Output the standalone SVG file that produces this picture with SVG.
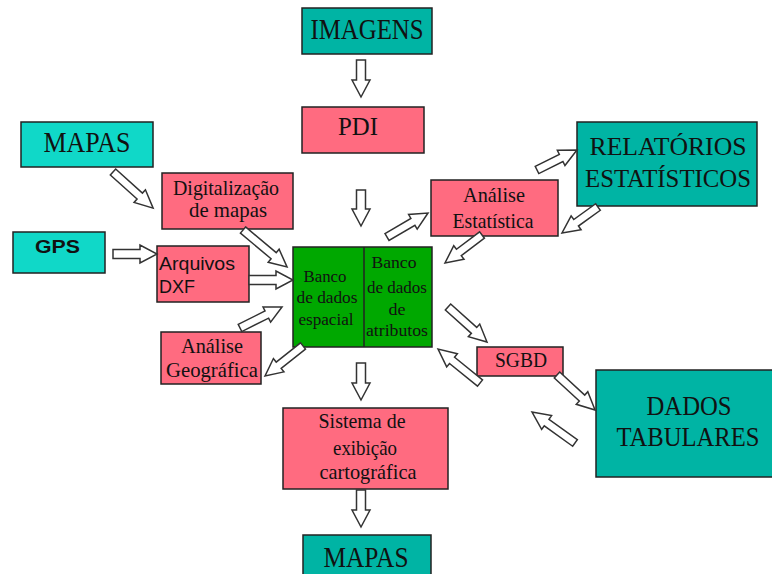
<svg xmlns="http://www.w3.org/2000/svg" width="772" height="574" viewBox="0 0 772 574">
  <style>
    .box { stroke: #222; stroke-width: 1.5; }
    .teal { fill: #00B4A4; }
    .cyan { fill: #10D8C8; }
    .pink { fill: #FF6B80; }
    .green { fill: #00A800; }
    .serif { font-family: "Liberation Serif", "Times New Roman", serif; fill: #111; }
    .sans { font-family: "Liberation Sans", Arial, sans-serif; fill: #111; }
    .big { font-size: 29px; }
    .mid { font-size: 21px; }
    .small { font-size: 17px; }
    .blk { fill: #fff; stroke: #333; stroke-width: 1.5; stroke-linejoin: miter; }
  </style>

  <!-- nodes -->
  <g id="imagens">
    <rect class="box teal" x="302" y="8" width="130" height="46"/>
    <text class="serif big" x="367" y="39" text-anchor="middle" textLength="113" lengthAdjust="spacingAndGlyphs">IMAGENS</text>
  </g>
  <g id="pdi">
    <rect class="box pink" x="302" y="107" width="122" height="46"/>
    <text class="serif" font-size="25" x="358" y="135" text-anchor="middle" textLength="40" lengthAdjust="spacingAndGlyphs">PDI</text>
  </g>
  <g id="mapas-in">
    <rect class="box cyan" x="21" y="122" width="132" height="45"/>
    <text class="serif big" x="87" y="152" text-anchor="middle" textLength="87" lengthAdjust="spacingAndGlyphs">MAPAS</text>
  </g>
  <g id="digitalizacao">
    <rect class="box pink" x="162" y="173" width="131" height="56"/>
    <text class="serif mid" x="226" y="195" text-anchor="middle" textLength="106" lengthAdjust="spacingAndGlyphs">Digitalização</text>
    <text class="serif mid" x="228" y="217" text-anchor="middle" textLength="78" lengthAdjust="spacingAndGlyphs">de mapas</text>
  </g>
  <g id="gps">
    <rect class="box cyan" x="13" y="232" width="92" height="41"/>
    <text class="sans" font-size="18" font-weight="bold" x="35" y="253" textLength="45" lengthAdjust="spacingAndGlyphs">GPS</text>
  </g>
  <g id="arquivos-dxf">
    <rect class="box pink" x="157" y="246" width="92" height="56"/>
    <text class="sans" font-size="19" x="159" y="270" textLength="76" lengthAdjust="spacingAndGlyphs">Arquivos</text>
    <text class="sans" font-size="19" x="159" y="293" textLength="36" lengthAdjust="spacingAndGlyphs">DXF</text>
  </g>
  <g id="analise-geografica">
    <rect class="box pink" x="161" y="332" width="100" height="52"/>
    <text class="serif mid" x="212" y="353" text-anchor="middle" textLength="62" lengthAdjust="spacingAndGlyphs">Análise</text>
    <text class="serif mid" x="212" y="377" text-anchor="middle" textLength="92" lengthAdjust="spacingAndGlyphs">Geográfica</text>
  </g>
  <g id="banco">
    <rect class="box green" x="293" y="247" width="139" height="100"/>
    <line x1="364" y1="247" x2="364" y2="347" stroke="#222" stroke-width="1.5"/>
    <text class="serif small" x="325" y="282" text-anchor="middle" textLength="43" lengthAdjust="spacingAndGlyphs">Banco</text>
    <text class="serif small" x="327" y="303" text-anchor="middle" textLength="61" lengthAdjust="spacingAndGlyphs">de dados</text>
    <text class="serif small" x="326" y="325" text-anchor="middle" textLength="55" lengthAdjust="spacingAndGlyphs">espacial</text>
    <text class="serif small" x="394" y="268" text-anchor="middle" textLength="45" lengthAdjust="spacingAndGlyphs">Banco</text>
    <text class="serif small" x="397" y="293" text-anchor="middle" textLength="60" lengthAdjust="spacingAndGlyphs">de dados</text>
    <text class="serif small" x="397" y="315" text-anchor="middle" textLength="17" lengthAdjust="spacingAndGlyphs">de</text>
    <text class="serif small" x="397" y="336" text-anchor="middle" textLength="62" lengthAdjust="spacingAndGlyphs">atributos</text>
  </g>
  <g id="analise-estatistica">
    <rect class="box pink" x="431" y="180" width="127" height="56"/>
    <text class="serif mid" x="494" y="202" text-anchor="middle" textLength="62" lengthAdjust="spacingAndGlyphs">Análise</text>
    <text class="serif mid" x="493" y="228" text-anchor="middle" textLength="81" lengthAdjust="spacingAndGlyphs">Estatística</text>
  </g>
  <g id="relatorios">
    <rect class="box teal" x="577" y="122" width="180" height="84"/>
    <text class="serif" font-size="25.5" x="668" y="155" text-anchor="middle" textLength="157" lengthAdjust="spacingAndGlyphs">RELATÓRIOS</text>
    <text class="serif" font-size="25.5" x="668" y="187" text-anchor="middle" textLength="166" lengthAdjust="spacingAndGlyphs">ESTATÍSTICOS</text>
  </g>
  <g id="sgbd">
    <rect class="box pink" x="477" y="347" width="86" height="29"/>
    <text class="serif mid" x="521" y="367" text-anchor="middle" textLength="52" lengthAdjust="spacingAndGlyphs">SGBD</text>
  </g>
  <g id="dados-tabulares">
    <rect class="box teal" x="596" y="370" width="180" height="107"/>
    <text class="serif" font-size="27" x="689" y="415" text-anchor="middle" textLength="85" lengthAdjust="spacingAndGlyphs">DADOS</text>
    <text class="serif" font-size="27" x="688" y="446" text-anchor="middle" textLength="143" lengthAdjust="spacingAndGlyphs">TABULARES</text>
  </g>
  <g id="sistema-exibicao">
    <rect class="box pink" x="283" y="408" width="165" height="81"/>
    <text class="serif mid" x="362" y="428" text-anchor="middle" textLength="87" lengthAdjust="spacingAndGlyphs">Sistema de</text>
    <text class="serif mid" x="365" y="455" text-anchor="middle" textLength="64" lengthAdjust="spacingAndGlyphs">exibição</text>
    <text class="serif mid" x="368" y="479" text-anchor="middle" textLength="97" lengthAdjust="spacingAndGlyphs">cartográfica</text>
  </g>
  <g id="mapas-out">
    <rect class="box teal" x="303" y="535" width="128" height="50"/>
    <text class="serif big" x="366" y="567" text-anchor="middle" textLength="85" lengthAdjust="spacingAndGlyphs">MAPAS</text>
  </g>

  <!-- connectors: hollow block arrows, drawn along +x then placed by transform -->
  <g id="connectors">
    <path class="blk" transform="translate(361,60) rotate(90)" d="M0,-4.5 H20 V-9 L37,0 L20,9 V4.5 H0 Z"/>
    <path class="blk" transform="translate(361,190) rotate(90)" d="M0,-4.5 H19 V-9 L36,0 L19,9 V4.5 H0 Z"/>
    <path class="blk" transform="translate(113,172) rotate(42)" d="M0,-4 H36 V-8.5 L54,0 L36,8.5 V4 H0 Z"/>
    <path class="blk" transform="translate(243,230) rotate(40)" d="M0,-4 H40 V-8.5 L57.5,0 L40,8.5 V4 H0 Z"/>
    <path class="blk" transform="translate(113,254)" d="M0,-4.5 H27 V-9 L44,0 L27,9 V4.5 H0 Z"/>
    <path class="blk" transform="translate(249,280)" d="M0,-4.5 H27 V-9 L44,0 L27,9 V4.5 H0 Z"/>
    <path class="blk" transform="translate(240,328) rotate(-26.6)" d="M0,-4 H30 V-8.5 L47,0 L30,8.5 V4 H0 Z"/>
    <path class="blk" transform="translate(303,346) rotate(141.7)" d="M0,-4 H31 V-8.5 L48.4,0 L31,8.5 V4 H0 Z"/>
    <path class="blk" transform="translate(387,237) rotate(-30.3)" d="M0,-4 H30 V-8.5 L47.5,0 L30,8.5 V4 H0 Z"/>
    <path class="blk" transform="translate(482,235) rotate(142.9)" d="M0,-4 H29 V-8.5 L46.4,0 L29,8.5 V4 H0 Z"/>
    <path class="blk" transform="translate(537,170) rotate(-26.6)" d="M0,-4 H27 V-8.5 L44.7,0 L27,8.5 V4 H0 Z"/>
    <path class="blk" transform="translate(598,207) rotate(144.2)" d="M0,-4 H27 V-8.5 L44.4,0 L27,8.5 V4 H0 Z"/>
    <path class="blk" transform="translate(448,307) rotate(41.9)" d="M0,-4 H35 V-8.5 L52.4,0 L35,8.5 V4 H0 Z"/>
    <path class="blk" transform="translate(480,383) rotate(-141)" d="M0,-4 H36 V-8.5 L54,0 L36,8.5 V4 H0 Z"/>
    <path class="blk" transform="translate(557,375) rotate(42.6)" d="M0,-4 H34 V-8.5 L51.7,0 L34,8.5 V4 H0 Z"/>
    <path class="blk" transform="translate(575,443) rotate(-144.2)" d="M0,-4 H35 V-8.5 L53,0 L35,8.5 V4 H0 Z"/>
    <path class="blk" transform="translate(361,363) rotate(90)" d="M0,-4.5 H20 V-9 L37,0 L20,9 V4.5 H0 Z"/>
    <path class="blk" transform="translate(361,490) rotate(90)" d="M0,-4.5 H20 V-9 L37,0 L20,9 V4.5 H0 Z"/>
  </g>
</svg>
